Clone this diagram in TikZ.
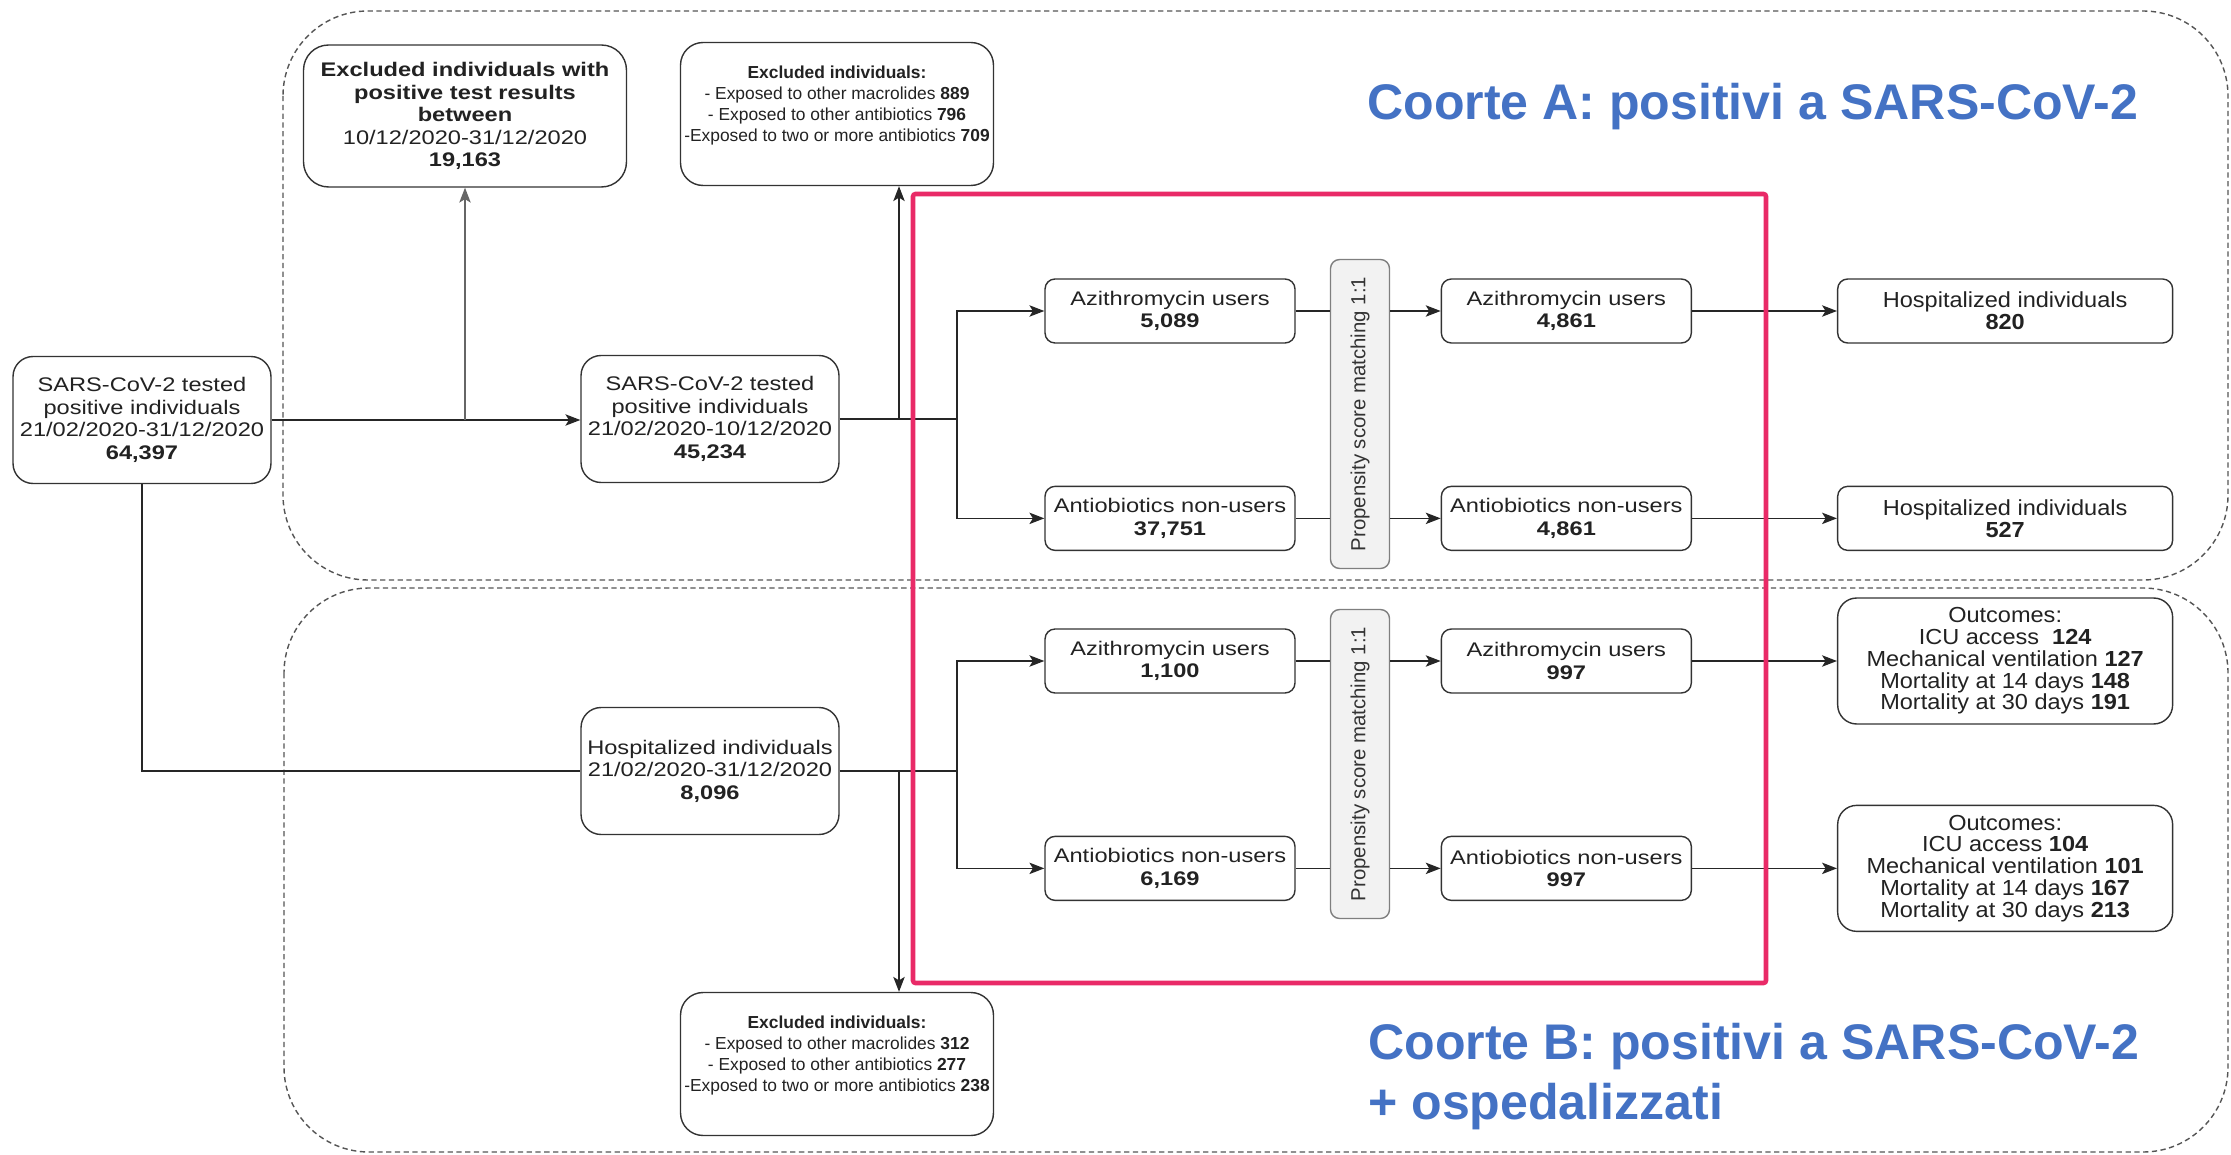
\documentclass[tikz,border=0pt]{standalone}
\usepackage{fontspec}
\setmainfont{Liberation Sans}
\newfontfamily\boxfont[FakeStretch=1.2]{Liberation Sans}
\newfontfamily\outfont[FakeStretch=1.08]{Liberation Sans}
\usetikzlibrary{
  arrows.meta,
  positioning,
  calc
}
\definecolor{fcLine}{HTML}{333333}
\definecolor{fcText}{HTML}{222222}
\definecolor{fcDash}{HTML}{555555}
\definecolor{fcPink}{HTML}{E92A67}
\definecolor{fcBlue}{HTML}{4472C4}
\definecolor{fcPSM}{HTML}{F2F2F2}
\definecolor{fcPSMLine}{HTML}{7F7F7F}
\tikzset{
  fcnode/.style={
    draw=fcLine, line width=0.8pt, fill=white, align=center, text=fcText, inner sep=0pt
  },
  bigbox/.style={fcnode, rounded corners=4mm, minimum width=5.16cm, minimum height=2.54cm, font=\fontsize{11.2}{12.8}\boxfont},
  exclbox/.style={fcnode, rounded corners=4.5mm, minimum width=6.26cm, minimum height=2.86cm, font=\fontsize{9.9}{11.8}\selectfont},
  armbox/.style={fcnode, rounded corners=2mm, minimum width=5cm, minimum height=1.28cm, font=\fontsize{11.2}{12.8}\boxfont},
  hospbox/.style={fcnode, rounded corners=2mm, minimum width=6.7cm, minimum height=1.28cm, font=\fontsize{12.4}{12.4}\outfont},
  outbox/.style={hospbox, rounded corners=3.8mm, minimum height=2.52cm},
  psmbox/.style={fcnode, draw=fcPSMLine, fill=fcPSM, rounded corners=1.8mm, minimum width=1.18cm, minimum height=6.18cm, text=fcLine, font=\fontsize{11.6}{13}\selectfont},
  cohort/.style={draw=fcDash, line width=0.8pt, dash pattern=on 3pt off 2pt, rounded corners=17mm},
  focus/.style={draw=fcPink, line width=2.6pt, rounded corners=0.5mm},
  conn/.style={-{Stealth[length=8.5pt, width=6.5pt, inset=2pt]}, line width=0.75pt, black!85},
  link/.style={line width=0.75pt, black!85},
  cohorttitle/.style={text=fcBlue, font=\fontsize{28.5}{34}\selectfont\bfseries, align=left, inner sep=0pt}
}
\begin{document}
\begin{tikzpicture}[x=0.02cm, y=-0.02cm]
  \useasboundingbox (0,0) rectangle (2231,1155);
  \draw[cohort] (283,11) rectangle (2228,580);
  \draw[cohort] (284,588) rectangle (2228,1152);

  \node[bigbox] (s0) at (142,420) {SARS-CoV-2 tested\\positive individuals\\21/02/2020-31/12/2020\\\textbf{64,397}};
  \node[bigbox, rounded corners=5mm, minimum width=6.46cm, minimum height=2.84cm] (e1) at (465,116) {\textbf{Excluded individuals with}\\\textbf{positive test results}\\\textbf{between}\\10/12/2020-31/12/2020\\\textbf{19,163}};
  \node[bigbox] (s1) at (710,419) {SARS-CoV-2 tested\\positive individuals\\21/02/2020-10/12/2020\\\textbf{45,234}};
  \node[exclbox] (e2) at (837,114) {\textbf{Excluded individuals:}\\- Exposed to other macrolides \textbf{889}\\- Exposed to other antibiotics \textbf{796}\\-Exposed to two or more antibiotics \textbf{709}\\{}};

  \node[armbox] (azA) at (1170,311) {Azithromycin users\\\textbf{5,089}};
  \node[armbox, below=2.84cm of azA] (anA) {Antiobiotics non-users\\\textbf{37,751}};
  \node[psmbox] (psmA) at (1360,414) {\rotatebox{90}{Propensity score matching 1:1}};
  \node[armbox, right=2.9cm of azA] (azA2) {Azithromycin users\\\textbf{4,861}};
  \node[armbox, right=2.9cm of anA] (anA2) {Antiobiotics non-users\\\textbf{4,861}};
  \node[hospbox, right=2.9cm of azA2] (hospAz) {Hospitalized individuals\\\textbf{820}};
  \node[hospbox, right=2.9cm of anA2] (hospAn) {Hospitalized individuals\\\textbf{527}};

  \node[bigbox] (h) at (710,771) {Hospitalized individuals\\21/02/2020-31/12/2020\\\textbf{8,096}};
  \node[exclbox] (exB) at (837,1064) {\textbf{Excluded individuals:}\\- Exposed to other macrolides \textbf{312}\\- Exposed to other antibiotics \textbf{277}\\-Exposed to two or more antibiotics \textbf{238}\\{}};

  \node[armbox] (azB) at (1170,661) {Azithromycin users\\\textbf{1,100}};
  \node[armbox, below=2.84cm of azB] (anB) {Antiobiotics non-users\\\textbf{6,169}};
  \node[psmbox] (psmB) at (1360,764) {\rotatebox{90}{Propensity score matching 1:1}};
  \node[armbox, right=2.9cm of azB] (azB2) {Azithromycin users\\\textbf{997}};
  \node[armbox, right=2.9cm of anB] (anB2) {Antiobiotics non-users\\\textbf{997}};
  \node[outbox, right=2.9cm of azB2] (outAz) {Outcomes:\\ICU access\ \ \textbf{124}\\Mechanical ventilation \textbf{127}\\Mortality at 14 days \textbf{148}\\Mortality at 30 days \textbf{191}};
  \node[outbox, right=2.9cm of anB2] (outAn) {Outcomes:\\ICU access \textbf{104}\\Mechanical ventilation \textbf{101}\\Mortality at 14 days \textbf{167}\\Mortality at 30 days \textbf{213}};

  \node[cohorttitle, anchor=base west] (titA) at (1367,120) {Coorte A: positivi a SARS-CoV-2};
  \node[cohorttitle, anchor=north west] (titB) at (1368,1023) {Coorte B: positivi a SARS-CoV-2\\+ ospedalizzati};

  \coordinate (jA) at (899,419);
  \coordinate (tA) at (957,419);
  \draw[conn] (s0.east) -- (s0.east -| s1.west);
  \draw[conn, black!60] (s0.east -| e1.south) -- (e1.south);
  \draw[link] (s1.east) -- (tA);
  \draw[conn] (jA) -- (jA |- e2.south);
  \draw[conn] (tA) |- (azA.west);
  \draw[conn] (tA) |- (anA.west);
  \draw[link] (azA.east) -- (azA.east -| psmA.west);
  \draw[conn] (azA.east -| psmA.east) -- (azA2.west);
  \draw[link] (anA.east) -- (anA.east -| psmA.west);
  \draw[conn] (anA.east -| psmA.east) -- (anA2.west);
  \draw[conn] (azA2) -- (hospAz);
  \draw[conn] (anA2) -- (hospAn);

  \coordinate (jB) at (899,771);
  \coordinate (tB) at (957,771);
  \draw[link] (s0.south) |- (h.west);
  \draw[link] (h.east) -- (tB);
  \draw[conn] (jB) -- (jB |- exB.north);
  \draw[conn] (tB) |- (azB.west);
  \draw[conn] (tB) |- (anB.west);
  \draw[link] (azB.east) -- (azB.east -| psmB.west);
  \draw[conn] (azB.east -| psmB.east) -- (azB2.west);
  \draw[link] (anB.east) -- (anB.east -| psmB.west);
  \draw[conn] (anB.east -| psmB.east) -- (anB2.west);
  \draw[conn] (azB2) -- (outAz);
  \draw[conn] (anB2) -- (outAn);

  \draw[focus] (913,194) rectangle (1766,983);
\end{tikzpicture}
\end{document}
